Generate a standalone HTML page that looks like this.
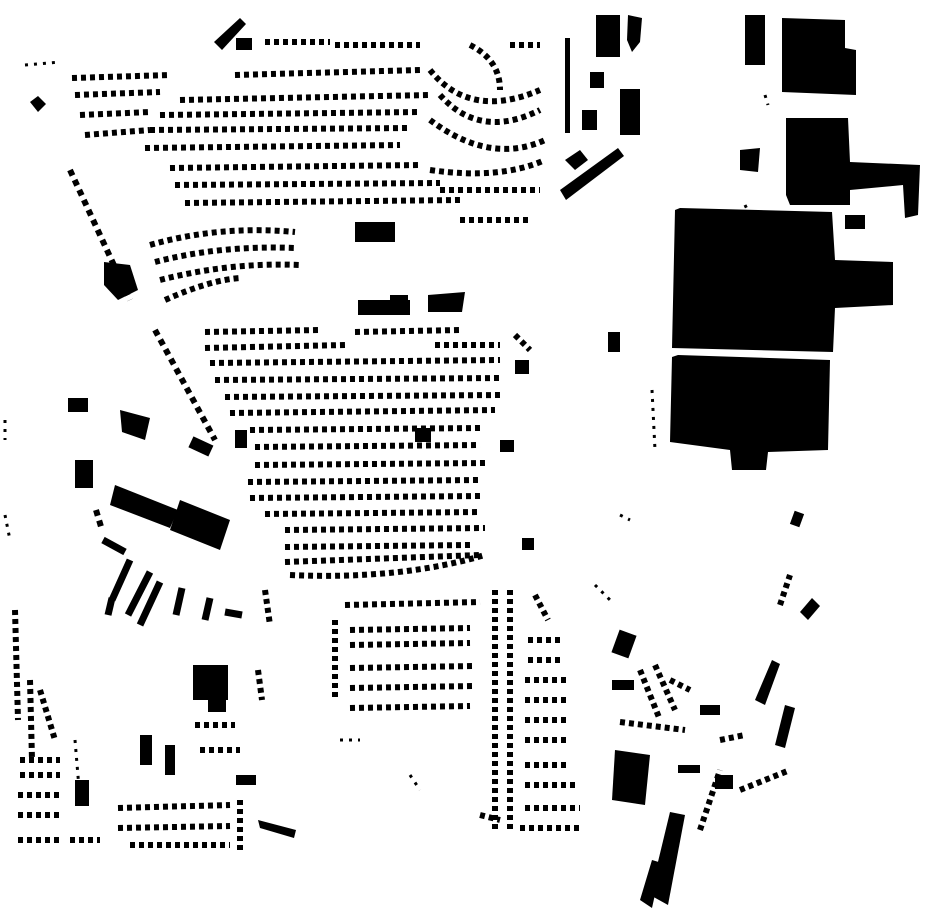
<!DOCTYPE html>
<html><head><meta charset="utf-8"><style>
html,body{margin:0;padding:0;background:#fff;width:930px;height:924px;overflow:hidden}
svg{display:block}
</style></head><body>
<svg width="930" height="924" viewBox="0 0 930 924" xmlns="http://www.w3.org/2000/svg">
<g fill="#000">
<polygon points="782,18 845,20 845,48 856,50 856,95 782,92"/>
<polygon points="786,118 848,118 850,162 920,165 918,215 905,218 903,185 850,190 850,205 790,205 786,195"/>
<polygon points="680,208 832,212 835,260 893,262 893,305 835,308 833,352 672,348 675,210"/>
<polygon points="678,355 830,360 828,450 768,452 766,470 732,470 730,450 670,442 672,357"/>
<rect x="845" y="215" width="20" height="14"/>
<rect x="745" y="15" width="20" height="50"/>
<polygon points="740,150 760,148 758,172 740,170"/>
<rect x="596" y="15" width="24" height="42"/>
<polygon points="628,15 642,18 640,42 632,52 627,40"/>
<rect x="590" y="72" width="14" height="16"/>
<rect x="620" y="89" width="20" height="46"/>
<rect x="582" y="110" width="15" height="20"/>
<polygon points="560,190 618,148 624,156 566,200"/>
<polygon points="565,160 580,150 588,160 575,170"/>
<rect x="565" y="38" width="5" height="95"/>
<polygon points="115,485 178,510 170,528 110,505"/>
<polygon points="180,500 230,520 220,550 170,530"/>
<polygon points="104,262 130,265 138,290 118,300 104,285"/>
<rect x="193" y="665" width="35" height="35"/>
<rect x="208" y="690" width="18" height="22"/>
<polygon points="120,410 150,418 145,440 122,432"/>
<rect x="75" y="460" width="18" height="28"/>
<rect x="68" y="398" width="20" height="14"/>
<rect x="355" y="222" width="40" height="20"/>
<rect x="358" y="300" width="52" height="15"/>
<rect x="390" y="295" width="18" height="20"/>
<polygon points="428,295 465,292 462,312 428,312"/>
<polygon points="214,42 240,18 246,24 222,50"/>
<rect x="236" y="38" width="16" height="12"/>
<polygon points="30,102 38,96 46,104 38,112"/>
<polygon points="615,750 650,755 645,805 612,800"/>
<polygon points="650,895 670,812 685,815 668,905"/>
<polygon points="640,900 652,860 662,863 652,908"/>
<polygon points="755,700 772,660 780,664 765,705"/>
<polygon points="775,745 785,705 795,708 785,748"/>
<rect x="615" y="632" width="18" height="24" transform="rotate(20 624 644)"/>
<rect x="612" y="680" width="22" height="10"/>
<polygon points="800,612 812,598 820,606 808,620"/>
<rect x="792" y="512" width="10" height="14" transform="rotate(20 797 519)"/>
<rect x="715" y="775" width="18" height="14"/>
<rect x="700" y="705" width="20" height="10"/>
<rect x="678" y="765" width="22" height="8"/>
<rect x="608" y="332" width="12" height="20"/>
<rect x="515" y="360" width="14" height="14"/>
<rect x="500" y="440" width="14" height="12"/>
<rect x="522" y="538" width="12" height="12"/>
<polygon points="258,820 296,830 294,838 260,828"/>
<rect x="140" y="735" width="12" height="30"/>
<rect x="165" y="745" width="10" height="30"/>
<rect x="75" y="780" width="14" height="26"/>
<rect x="235" y="430" width="12" height="18"/>
<rect x="190" y="440" width="22" height="12" transform="rotate(25 200 446)"/>
<rect x="415" y="428" width="16" height="14"/>
<rect x="236" y="775" width="20" height="10"/>
</g>
<g fill="none" stroke="#000">
<g stroke-width="7">
<line x1="130" y1="560" x2="112" y2="600"/>
<line x1="150" y1="572" x2="128" y2="615"/>
<line x1="160" y1="582" x2="140" y2="625"/>
<line x1="182" y1="588" x2="176" y2="615"/>
<line x1="103" y1="540" x2="125" y2="552"/>
<line x1="210" y1="598" x2="205" y2="620"/>
<line x1="225" y1="612" x2="242" y2="615"/>
<line x1="112" y1="598" x2="108" y2="615"/>
</g>
<g stroke-width="6" stroke-dasharray="6 5">
<line x1="155" y1="330" x2="215" y2="440"/>
<line x1="70" y1="170" x2="130" y2="300"/>
<line x1="96" y1="510" x2="102" y2="530"/>
</g>
<g stroke-width="6" stroke-dasharray="5 4">
<path d="M72 78 L170 75"/>
<path d="M75 95 L160 92"/>
<path d="M80 115 L150 112"/>
<path d="M85 135 L150 130"/>
<path d="M265 42 L330 42"/>
<path d="M335 45 L420 45"/>
<path d="M235 75 L420 70"/>
<path d="M180 100 L430 95"/>
<path d="M160 115 L420 112"/>
<path d="M150 130 L410 128"/>
<path d="M145 148 L400 145"/>
<path d="M170 168 L420 165"/>
<path d="M175 185 L440 183"/>
<path d="M185 203 L460 200"/>
<path d="M460 220 L530 220"/>
<path d="M430 70 Q470 120 540 90"/>
<path d="M440 95 Q480 140 540 110"/>
<path d="M430 120 Q490 165 545 140"/>
<path d="M430 170 Q500 180 545 160"/>
<path d="M440 190 L540 190"/>
<path d="M470 45 Q500 60 500 90"/>
<path d="M510 45 L540 45"/>
<path d="M150 245 Q220 225 295 232"/>
<path d="M155 262 Q220 245 295 248"/>
<path d="M160 280 Q230 262 300 265"/>
<path d="M165 300 Q210 280 240 278"/>
<path d="M205 332 L320 330"/>
<path d="M205 348 L345 345"/>
<path d="M210 363 L500 360"/>
<path d="M215 380 L500 378"/>
<path d="M225 397 L500 395"/>
<path d="M230 413 L495 410"/>
<path d="M250 430 L480 428"/>
<path d="M255 447 L480 445"/>
<path d="M255 465 L485 463"/>
<path d="M248 482 L480 480"/>
<path d="M250 498 L480 496"/>
<path d="M265 514 L480 512"/>
<path d="M285 530 L485 528"/>
<path d="M285 547 L470 545"/>
<path d="M285 562 L480 555"/>
<path d="M290 575 Q400 580 485 555"/>
<path d="M355 332 L460 330"/>
<path d="M435 345 L500 345"/>
<path d="M515 335 L530 350"/>
<path d="M345 605 L480 602"/>
<path d="M350 630 L470 628"/>
<path d="M350 645 L470 643"/>
<path d="M350 668 L475 666"/>
<path d="M350 688 L475 686"/>
<path d="M350 708 L470 706"/>
<path d="M335 620 L335 700"/>
<path d="M495 590 L495 830"/>
<path d="M510 590 L510 830"/>
<path d="M535 595 L548 620"/>
<path d="M528 640 L560 640"/>
<path d="M528 660 L560 660"/>
<path d="M525 680 L570 680"/>
<path d="M525 700 L570 700"/>
<path d="M525 720 L570 720"/>
<path d="M525 740 L570 740"/>
<path d="M525 765 L570 765"/>
<path d="M525 785 L575 785"/>
<path d="M525 808 L580 808"/>
<path d="M520 828 L580 828"/>
<path d="M480 815 L500 820"/>
<path d="M15 610 L18 720"/>
<path d="M30 680 L32 760"/>
<path d="M40 690 L55 740"/>
<path d="M20 760 L60 760"/>
<path d="M20 775 L60 775"/>
<path d="M18 795 L60 795"/>
<path d="M18 815 L60 815"/>
<path d="M18 840 L60 840"/>
<path d="M70 840 L100 840"/>
<path d="M118 808 L230 805"/>
<path d="M118 828 L230 826"/>
<path d="M130 845 L230 845"/>
<path d="M195 725 L235 725"/>
<path d="M200 750 L240 750"/>
<path d="M240 800 L240 850"/>
<path d="M265 590 L270 625"/>
<path d="M258 670 L262 700"/>
<path d="M640 670 L660 720"/>
<path d="M655 665 L675 710"/>
<path d="M670 680 L690 690"/>
<path d="M620 722 L685 730"/>
<path d="M700 830 L720 770"/>
<path d="M740 790 L790 770"/>
<path d="M720 740 L745 735"/>
<path d="M780 605 L790 575"/>
</g>
<g stroke-width="3" stroke-dasharray="3 6">
<path d="M25 65 L60 62"/>
<path d="M5 420 L5 440"/>
<path d="M5 515 L10 540"/>
<path d="M75 740 L80 800"/>
<path d="M340 740 L360 740"/>
<path d="M410 775 L420 790"/>
<path d="M595 585 L610 600"/>
<path d="M620 515 L630 520"/>
<path d="M745 205 L750 215"/>
<path d="M765 95 L768 105"/>
<path d="M652 390 L655 450"/>
</g>
</g>
</svg>
</body></html>
